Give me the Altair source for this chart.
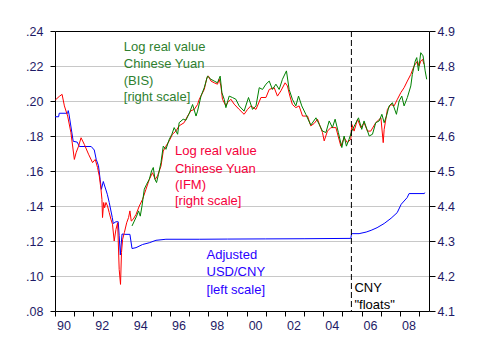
import altair as alt
import pandas as pd

# ---- Adjusted USD/CNY (left scale) ----
usd_t = [1990.00, 1990.19, 1990.22, 1990.66, 1990.69, 1990.73, 1990.95, 1991.16, 1991.27, 1991.89,
         1992.05, 1992.15, 1992.27, 1992.36, 1992.42, 1992.52, 1992.73, 1992.83, 1992.99, 1993.04,
         1993.18, 1993.30, 1993.35, 1993.41, 1993.50, 1993.62, 1993.91, 1994.02, 1994.23, 1994.57,
         1994.92, 1995.27, 1995.79, 1997.53, 1999.00, 2001.00, 2003.00, 2005.44, 2005.48, 2005.87,
         2006.24, 2006.50, 2006.81, 2007.18, 2007.54, 2007.86, 2008.07, 2008.38, 2008.48, 2009.26,
         2009.32]
usd_v = [0.191, 0.191, 0.193, 0.193, 0.1945, 0.1925, 0.177, 0.1765, 0.174, 0.174,
         0.172, 0.1667, 0.163, 0.155, 0.1495, 0.154, 0.1467, 0.142, 0.1334, 0.130,
         0.131, 0.131, 0.123, 0.112, 0.124, 0.1238, 0.1238, 0.1157, 0.1162, 0.118,
         0.119, 0.1204, 0.121, 0.121, 0.1211, 0.1212, 0.1213, 0.1215, 0.1242, 0.1242,
         0.1251, 0.1261, 0.1276, 0.130, 0.133, 0.1362, 0.141, 0.1448, 0.1471, 0.1471,
         0.1476]

# ---- Log real value Chinese Yuan, IFM (right scale) ----
ifm_t = [1990.02, 1990.22, 1990.37, 1990.49, 1990.66, 1990.83, 1991.01, 1991.10, 1991.23, 1991.36,
         1991.53, 1991.75, 1991.96, 1992.10, 1992.22, 1992.31, 1992.40, 1992.45, 1992.48, 1992.54,
         1992.59, 1992.66, 1992.74, 1992.83, 1992.92, 1993.00, 1993.09, 1993.18, 1993.27, 1993.35,
         1993.42, 1993.47, 1993.53, 1993.62, 1993.74, 1993.84, 1993.91, 1993.98, 1994.08, 1994.23,
         1994.40, 1994.57, 1994.75, 1994.92, 1995.09, 1995.23, 1995.35, 1995.53, 1995.65, 1995.79,
         1995.96, 1996.13, 1996.31, 1996.48, 1996.74, 1996.92, 1997.09, 1997.27, 1997.44, 1997.53,
         1997.79, 1997.93, 1998.01, 1998.14, 1998.31, 1998.48, 1998.57, 1998.66, 1998.74, 1998.92,
         1999.00, 1999.18, 1999.35, 1999.61, 1999.87, 2000.05, 2000.22, 2000.49, 2000.75, 2001.01,
         2001.18, 2001.44, 2001.61, 2001.79, 2002.01, 2002.13, 2002.26, 2002.39, 2002.57, 2002.74,
         2002.92, 2003.18, 2003.35, 2003.53, 2003.70, 2003.96, 2004.05, 2004.22, 2004.40, 2004.66,
         2004.92, 2005.09, 2005.26, 2005.44, 2005.49, 2005.61, 2005.79, 2005.96, 2006.13, 2006.31,
         2006.48, 2006.74, 2007.01, 2007.13, 2007.18, 2007.35, 2007.53, 2007.70, 2007.87, 2008.05,
         2008.22, 2008.39, 2008.57, 2008.74, 2008.92, 2009.00, 2009.09, 2009.18, 2009.26]
ifm_v = [4.703, 4.713, 4.719, 4.686, 4.657, 4.610, 4.533, 4.552, 4.571, 4.595,
         4.576, 4.548, 4.524, 4.533, 4.510, 4.486, 4.448, 4.419, 4.367, 4.410,
         4.395, 4.410, 4.400, 4.381, 4.362, 4.348, 4.300, 4.333, 4.352, 4.219,
         4.176, 4.267, 4.305, 4.324, 4.352, 4.367, 4.386, 4.357, 4.362, 4.376,
         4.400, 4.419, 4.448, 4.476, 4.495, 4.476, 4.486, 4.514, 4.557, 4.571,
         4.586, 4.605, 4.614, 4.629, 4.638, 4.657, 4.672, 4.676, 4.690, 4.705,
         4.733, 4.767, 4.771, 4.757, 4.752, 4.748, 4.762, 4.743, 4.705, 4.686,
         4.695, 4.705, 4.691, 4.676, 4.662, 4.676, 4.686, 4.676, 4.710, 4.710,
         4.733, 4.738, 4.714, 4.729, 4.752, 4.743, 4.714, 4.690, 4.681, 4.686,
         4.657, 4.657, 4.629, 4.636, 4.648, 4.610, 4.586, 4.614, 4.624, 4.624,
         4.571, 4.595, 4.581, 4.591, 4.633, 4.614, 4.648, 4.624, 4.638, 4.614,
         4.614, 4.638, 4.652, 4.581, 4.619, 4.676, 4.690, 4.686, 4.705, 4.724,
         4.738, 4.757, 4.776, 4.800, 4.814, 4.800, 4.814, 4.819, 4.805]

# ---- Log real value Chinese Yuan, BIS (right scale) ----
bis_t = [1994.02, 1994.14, 1994.26, 1994.36, 1994.45, 1994.54, 1994.66, 1994.78, 1994.92, 1995.04,
         1995.13, 1995.22, 1995.30, 1995.40, 1995.53, 1995.65, 1995.79, 1995.96, 1996.10, 1996.22,
         1996.40, 1996.48, 1996.69, 1996.83, 1997.01, 1997.18, 1997.36, 1997.44, 1997.62, 1997.79,
         1997.96, 1998.14, 1998.31, 1998.48, 1998.62, 1998.71, 1998.83, 1998.92, 1999.09, 1999.26,
         1999.44, 1999.61, 1999.87, 2000.10, 2000.31, 2000.49, 2000.66, 2000.83, 2001.01, 2001.18,
         2001.35, 2001.53, 2001.70, 2001.87, 2002.08, 2002.22, 2002.39, 2002.57, 2002.71, 2002.88,
         2003.09, 2003.35, 2003.62, 2003.79, 2003.96, 2004.14, 2004.31, 2004.48, 2004.62, 2004.79,
         2004.97, 2005.09, 2005.21, 2005.35, 2005.49, 2005.66, 2005.84, 2006.01, 2006.13, 2006.28,
         2006.40, 2006.57, 2006.74, 2006.92, 2007.06, 2007.18, 2007.30, 2007.44, 2007.61, 2007.82,
         2007.96, 2008.10, 2008.22, 2008.39, 2008.57, 2008.65, 2008.80, 2008.88, 2008.97, 2009.09,
         2009.21, 2009.32, 2009.40]
bis_v = [4.343, 4.357, 4.371, 4.386, 4.371, 4.400, 4.448, 4.462, 4.476, 4.500,
         4.510, 4.476, 4.467, 4.490, 4.524, 4.571, 4.562, 4.590, 4.605, 4.624,
         4.605, 4.638, 4.648, 4.645, 4.665, 4.690, 4.657, 4.671, 4.714, 4.738,
         4.771, 4.762, 4.757, 4.752, 4.771, 4.724, 4.705, 4.681, 4.714, 4.710,
         4.705, 4.686, 4.671, 4.710, 4.676, 4.686, 4.738, 4.733, 4.748, 4.757,
         4.733, 4.748, 4.733, 4.762, 4.786, 4.733, 4.705, 4.686, 4.714, 4.686,
         4.662, 4.631, 4.652, 4.633, 4.614, 4.610, 4.643, 4.624, 4.648, 4.610,
         4.567, 4.600, 4.571, 4.591, 4.614, 4.633, 4.652, 4.619, 4.643, 4.619,
         4.600, 4.605, 4.638, 4.643, 4.662, 4.638, 4.657, 4.686, 4.695, 4.662,
         4.700, 4.714, 4.686, 4.710, 4.743, 4.776, 4.814, 4.824, 4.786, 4.838,
         4.829, 4.786, 4.762]

# ---- CNY float date ----
float_t = [2005.47]

# ---- annotations (positions in year / right-scale units) ----
ann_label = ["Log real value", "Chinese Yuan", "(BIS)", "[right scale]",
             "Log real value", "Chinese Yuan", "(IFM)", "[right scale]",
             "Adjusted", "USD/CNY", "[left scale]",
             "CNY", "\"floats\""]
ann_t = [1993.59] * 4 + [1996.26] * 4 + [1997.91] * 3 + [2005.63] * 2
ann_v = [4.853, 4.806, 4.758, 4.712,
         4.557, 4.507, 4.459, 4.413,
         4.261, 4.211, 4.160,
         4.166, 4.118]
ann_group = ["bis"] * 4 + ["ifm"] * 4 + ["usd"] * 3 + ["cny"] * 2

x_ticks = list(range(1990, 2010))
left_ticks = [0.08, 0.10, 0.12, 0.14, 0.16, 0.18, 0.20, 0.22, 0.24]
right_ticks = [4.1, 4.2, 4.3, 4.4, 4.5, 4.6, 4.7, 4.8, 4.9]

FONT = "Liberation Sans"
LABEL_COLOR = "#1e1a66"

usd = pd.DataFrame({"t": usd_t, "v": usd_v})
ifm = pd.DataFrame({"t": ifm_t, "v": ifm_v})
bis = pd.DataFrame({"t": bis_t, "v": bis_v})
flt = pd.DataFrame({"t": float_t})
ann = pd.DataFrame({"t": ann_t, "v": ann_v, "label": ann_label, "group": ann_group})

xscale = alt.Scale(domain=[1990, 2009.52], nice=False, zero=False)

x_bottom = alt.X(
    "t:Q", scale=xscale,
    axis=alt.Axis(
        orient="bottom", values=x_ticks, title=None, grid=False,
        labelExpr="datum.value % 2 == 0 ? slice(toString(datum.value), 2) : ''",
        labelOffset=8.5, labelOverlap=False, labelBound=False, labelFlush=False,
        tickSize=5, labelPadding=3, domainColor="black", tickColor="black",
        labelColor=LABEL_COLOR, labelFont=FONT, labelFontSize=12.5, labelAngle=0,
    ),
)
x_top = alt.X(
    "t:Q", scale=xscale,
    axis=alt.Axis(orient="top", labels=False, ticks=False, grid=False, title=None,
                  domainColor="black"),
)

y_left = alt.Y(
    "v:Q", scale=alt.Scale(domain=[0.08, 0.24], nice=False, zero=False),
    axis=alt.Axis(
        orient="left", values=left_ticks, title=None,
        labelExpr="replace(format(datum.value, '.2f'), '0.', '.')",
        tickSize=5, labelPadding=7, domainColor="black", tickColor="black",
        labelColor=LABEL_COLOR, labelFont=FONT, labelFontSize=12.5,
        grid=True, gridColor="#c8c8c8",
        gridOpacity={"condition": {"test": "datum.value > 0.235", "value": 0}, "value": 1},
    ),
)
y_right = alt.Y(
    "v:Q", scale=alt.Scale(domain=[4.1, 4.9], nice=False, zero=False),
    axis=alt.Axis(
        orient="right", values=right_ticks, title=None, format=".1f", grid=False,
        tickSize=6, labelPadding=2, domainColor="black", tickColor="black",
        labelColor=LABEL_COLOR, labelFont=FONT, labelFontSize=12.5,
    ),
)

blue = alt.Chart(usd).mark_line(color="#0000ff", strokeWidth=1).encode(x=x_bottom, y=y_left)

red = alt.Chart(ifm).mark_line(color="#ff0000", strokeWidth=1).encode(x=x_top, y=y_right)
green = alt.Chart(bis).mark_line(color="#008000", strokeWidth=1).encode(x=x_top, y=y_right)
rule = alt.Chart(flt).mark_rule(color="black", strokeWidth=1, strokeDash=[6, 3]).encode(x=x_top)

text_colors = {"bis": "#2f7f2f", "ifm": "#f5003c", "usd": "#2a00ff", "cny": "#000000"}
texts = []
for g, c in text_colors.items():
    texts.append(
        alt.Chart(ann[ann["group"] == g]).mark_text(
            align="left", baseline="middle", font=FONT, fontSize=13, color=c
        ).encode(x=x_top, y=y_right, text="label:N")
    )

right_group = alt.layer(red, green, rule, *texts)

chart = (
    alt.layer(blue, right_group)
    .resolve_scale(y="independent")
    .resolve_axis(x="independent")
    .properties(
        width=374, height=280,
        autosize=alt.AutoSizeParams(type="none"),
        padding={"left": 55, "top": 31, "right": 53, "bottom": 45},
        background="white",
    )
    .configure_view(stroke=None)
)

chart.save("out.html", embed_options={"renderer": "svg", "actions": False})
